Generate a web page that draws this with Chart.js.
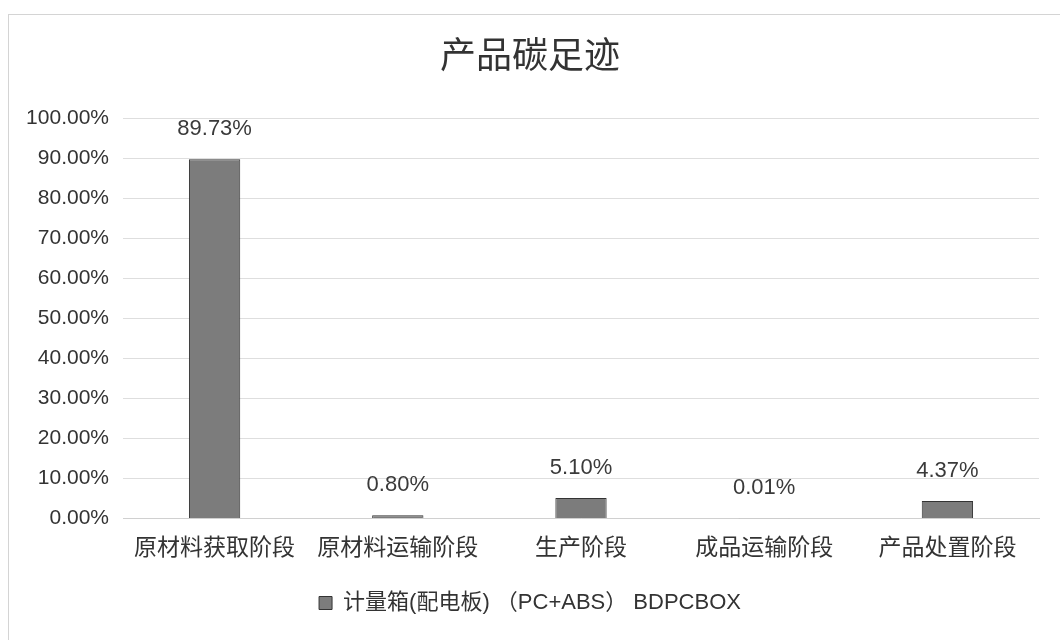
<!DOCTYPE html>
<html>
<head>
<meta charset="utf-8">
<script src="https://cdn.jsdelivr.net/npm/chart.js@4"></script>
<style>
  html, body { margin: 0; padding: 0; background: #fff; }
  #frame {
    position: absolute; left: 8px; top: 14px;
    width: 1052px; height: 626px;
    border: 1px solid #d4d4d4; border-right: none; border-bottom: none;
    box-sizing: border-box;
  }
  #frame canvas { display: block; }
</style>
</head>
<body>
<div id="frame"><canvas id="c"></canvas></div>
<script>
// Data (percent share of footprint per stage)
const stages = ["原材料获取阶段", "原材料运输阶段", "生产阶段", "成品运输阶段", "产品处置阶段"];
const shares = [89.73, 0.80, 5.10, 0.01, 4.37];
const seriesName = "计量箱(配电板) （PC+ABS） BDPCBOX";

const cjk = "'Noto Sans CJK SC', 'Noto Sans', sans-serif";
const latin = "'Liberation Sans', 'Noto Sans CJK SC', sans-serif";

// Small inline plugin: value label above each bar
const barLabels = {
  id: "barLabels",
  afterDatasetsDraw(chart) {
    const ctx = chart.ctx;
    const meta = chart.getDatasetMeta(0);
    ctx.save();
    ctx.font = "22px " + latin;
    ctx.fillStyle = "#3a3a3a";
    ctx.textAlign = "center";
    ctx.textBaseline = "bottom";
    meta.data.forEach((bar, i) => {
      ctx.fillText(shares[i].toFixed(2) + "%", bar.x, bar.y - 19);
    });
    ctx.restore();
  }
};

const canvas = document.getElementById("c");
canvas.width = 1052;
canvas.height = 626;

new Chart(canvas, {
  type: "bar",
  data: {
    labels: stages,
    datasets: [{
      label: seriesName,
      data: shares,
      backgroundColor: "#7c7c7c",
      borderColor: "#333333",
      borderWidth: 1,
      barPercentage: 0.28,
      categoryPercentage: 1.0
    }]
  },
  options: {
    responsive: false,
    animation: false,
    events: [],
    layout: { padding: { left: 12, right: 22, top: 18, bottom: 17 } },
    plugins: {
      title: {
        display: true,
        text: "产品碳足迹",
        color: "#333333",
        font: { family: cjk, size: 36, weight: "normal" },
        padding: { top: 0, bottom: 42 }
      },
      legend: {
        position: "bottom",
        labels: {
          color: "#333333",
          font: { family: latin, size: 22 },
          boxWidth: 13,
          boxHeight: 13,
          padding: 26
        }
      },
      tooltip: { enabled: false }
    },
    scales: {
      x: {
        grid: { display: false },
        border: { color: "#d0d0d0" },
        ticks: {
          color: "#333333",
          font: { family: cjk, size: 23 },
          maxRotation: 0,
          autoSkip: false,
          padding: 6
        }
      },
      y: {
        min: 0,
        max: 100,
        border: { display: false },
        grid: { color: "#dedede", drawTicks: false },
        // fixed axis width so the plot starts where the reference does
        afterFit: scale => { scale.width = 102; },
        ticks: {
          stepSize: 10,
          color: "#333333",
          font: { family: latin, size: 21 },
          padding: 14,
          callback: v => v.toFixed(2) + "%"
        }
      }
    }
  },
  plugins: [barLabels]
});
</script>
</body>
</html>
